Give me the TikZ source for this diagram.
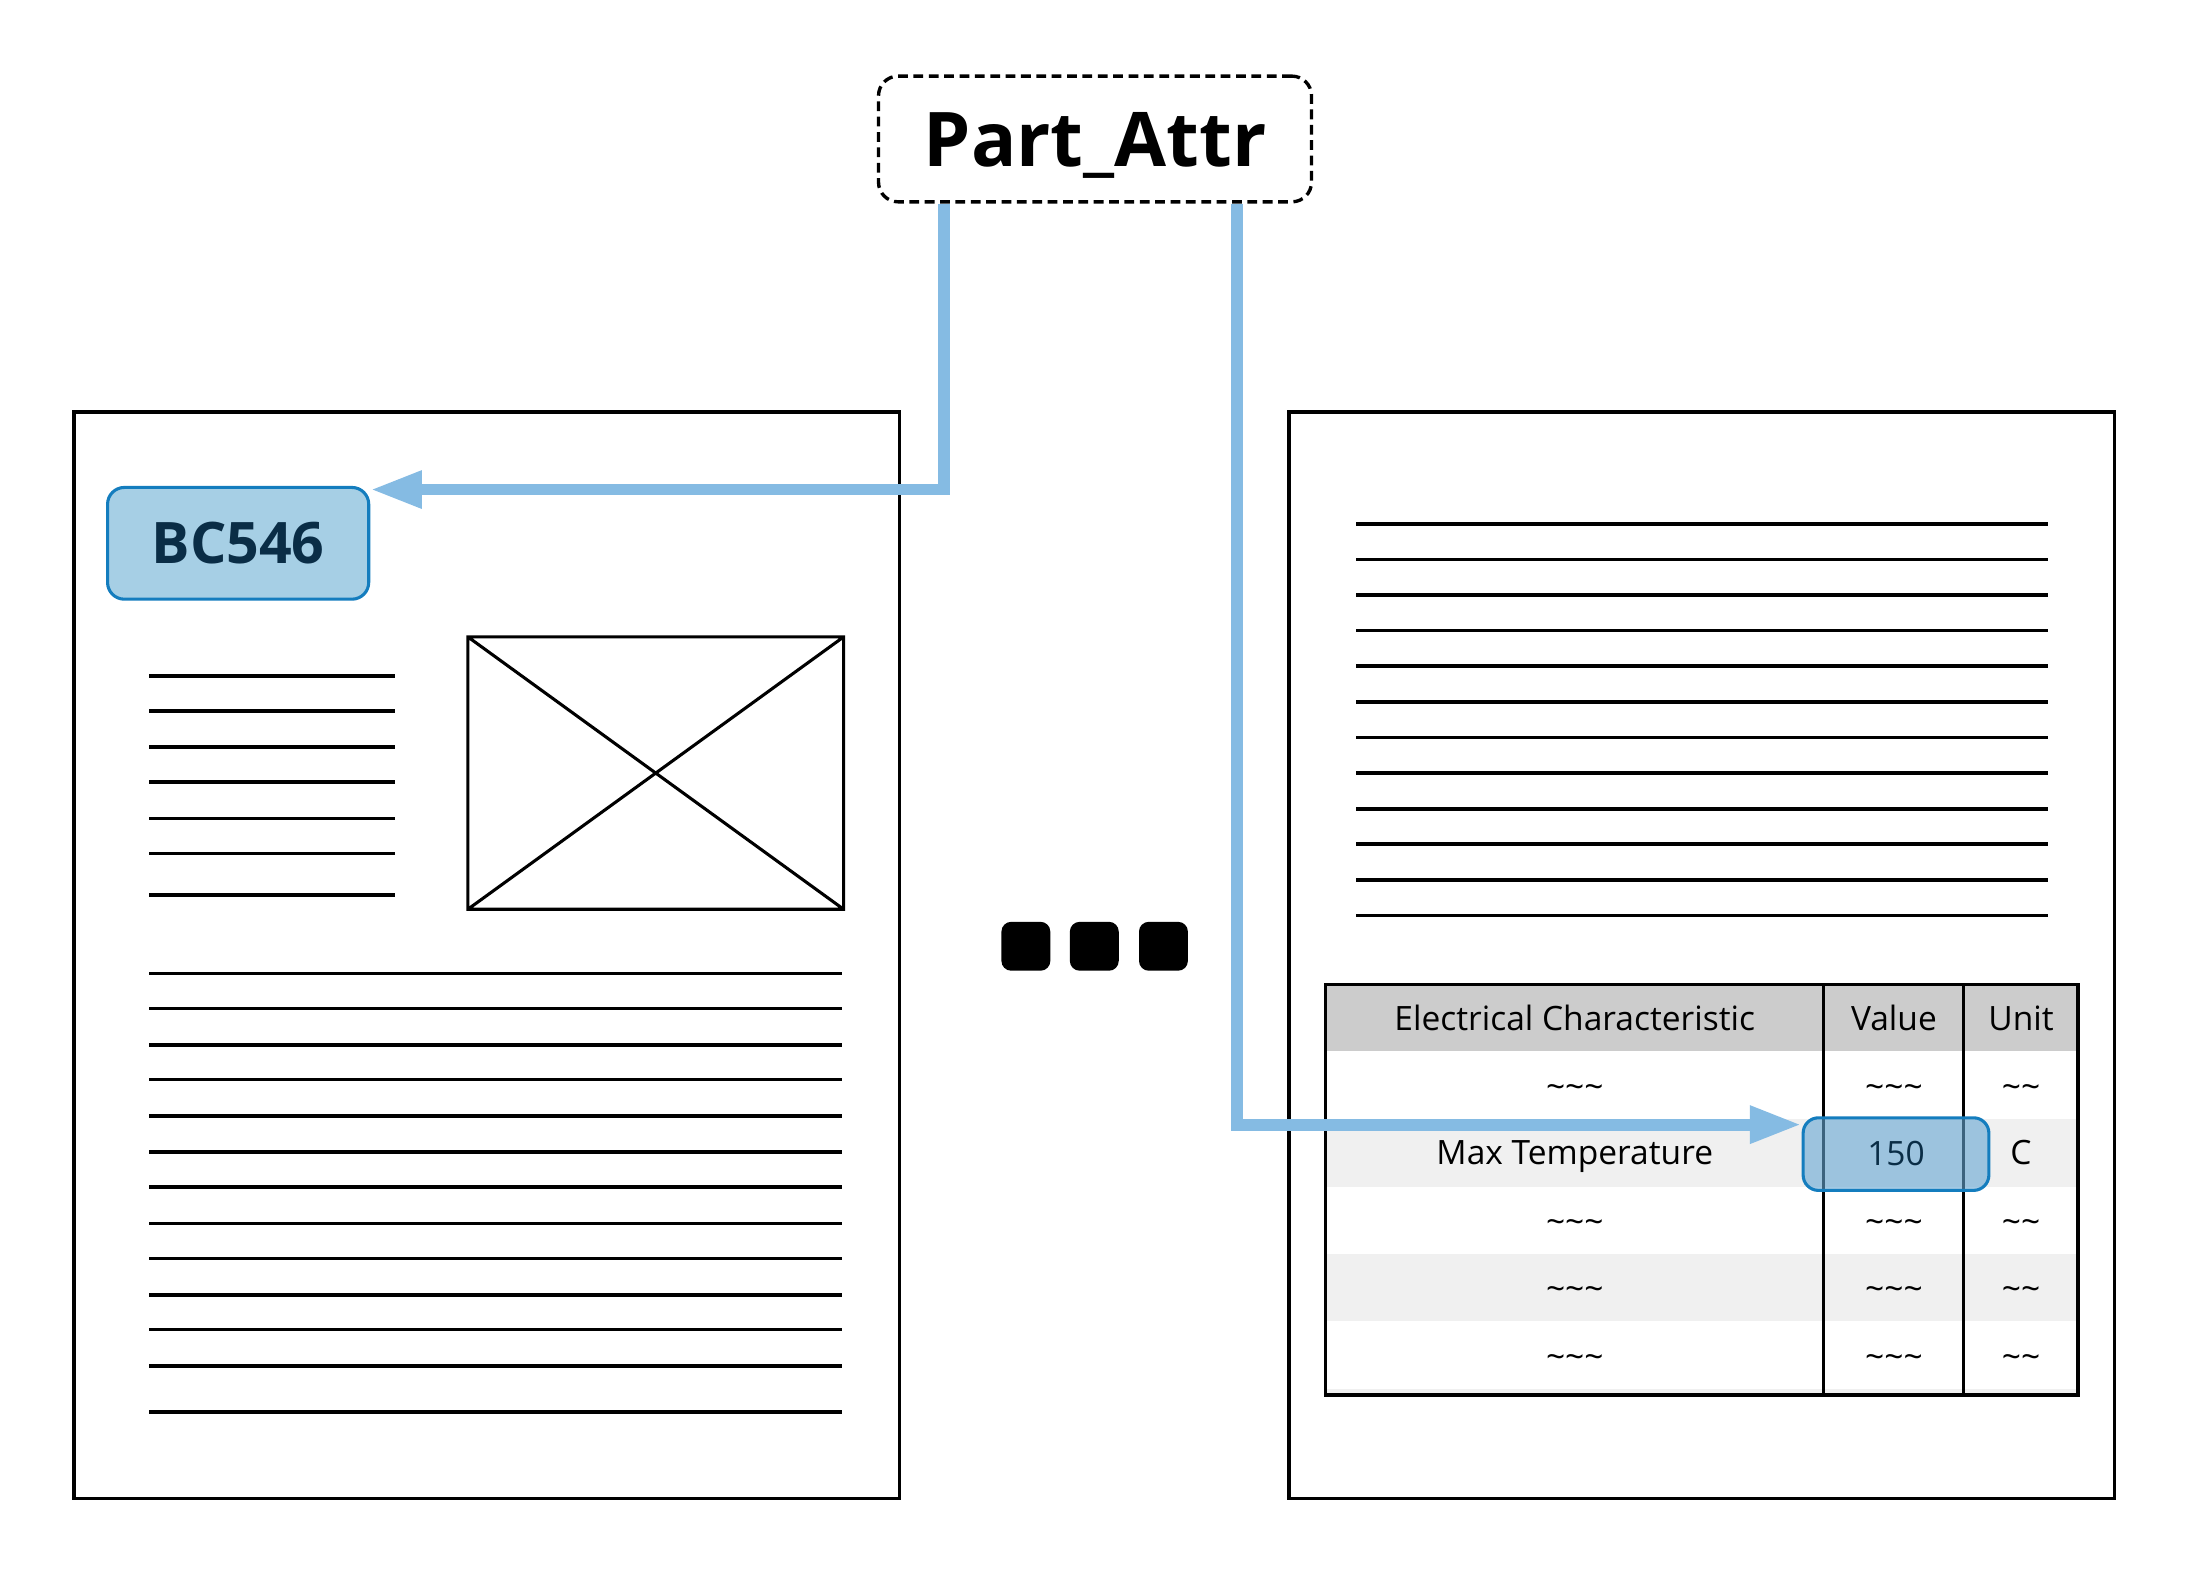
\documentclass[tikz,border=0pt]{standalone}
\usepackage{fontspec}
\setmainfont{Open Sans}
\usetikzlibrary{arrows.meta}
\definecolor{linkblue}{RGB}{133,187,227}
\definecolor{tagfill}{RGB}{166,207,229}
\definecolor{tagdraw}{RGB}{20,125,190}
\definecolor{tagtext}{RGB}{10,45,70}
\definecolor{headgray}{RGB}{204,204,204}
\definecolor{rowgray}{RGB}{240,240,240}
\definecolor{hilite}{RGB}{100,165,210}

\begin{document}
\begin{tikzpicture}
		[x=1pt,y=-1pt,every node/.style={inner sep=0pt},
		cell/.style={font=\fontsize{24}{28}\selectfont,text height=17pt,text depth=0pt},
		txtline/.style={line width=2.6pt},
		link/.style={line width=8.5pt,linkblue,-{Triangle[length=37pt,width=25pt]}}]
		\useasboundingbox (0,0) rectangle (1568,1128);
		%\draw[help lines] (0,0) grid (1568,1128);
		\node[draw,line width=2.4pt,dash pattern=on 7pt off 4pt,rounded corners=14pt,minimum width=310pt,minimum height=90pt,
			font=\fontsize{54}{60}\selectfont\bfseries,text height=39pt,text depth=0pt] (attr) at (784,99.5) {Part\_Attr};
		
		% left sheet
		\draw[line width=2.6pt] (53,295) rectangle (644,1073);
		\node[draw=tagdraw,fill=tagfill,line width=2.2pt,rounded corners=12pt,minimum width=187pt,minimum height=80pt,
			text=tagtext,font=\fontsize{41}{46}\selectfont\bfseries,text height=29pt,text depth=0pt] (bc) at (170.5,389) {BC546};
		\draw[line width=2.2pt] (335,456) rectangle (604,651) (335,456) -- (604,651) (335,651) -- (604,456);
		\foreach \y in {484,509,535,560,586,611,641}
		\draw[txtline] (107,\y) -- (283,\y);
		\foreach \y in {697,722,748,773,799,825,850,876,901,927,952,978,1011}
		\draw[txtline] (107,\y) -- (603,\y);
		
		% dots
		\foreach \x in {734.5,783.5,833}
		\fill[rounded corners=7pt] ({\x-17.5},660) rectangle ({\x+17.5},695);
		
		% right sheet
		\draw[line width=2.6pt] (923,295) rectangle (1514,1073);
		\foreach \i in {0,...,11}
		\draw[txtline] (971,{375+25.5*\i}) -- (1466,{375+25.5*\i});
		
		% table
		\fill[headgray] (949,705) rectangle (1488,752.3);
		\foreach \y in {801.4,897.8,994.2}
		\fill[rowgray] (949,\y) rectangle (1488,{min(\y+48.3,999)});
		\draw[line width=2.2pt] (1305.5,705) -- (1305.5,999) (1406,705) -- (1406,999);
		\draw[line width=2.6pt] (949,705) rectangle (1488,999);
		\node[cell] (h1) at (1127.5,729) {Electrical Characteristic};
		\node[cell] (h2) at (1356,729) {Value};
		\node[cell] (h3) at (1447,729) {Unit};
		\foreach \r in {1,3,4,5}{
			\node[cell] (a\r) at (1127.5,{778+48.3*(\r-1)}) {\textasciitilde\textasciitilde\textasciitilde};
			\node[cell] (b\r) at (1356,{778+48.3*(\r-1)}) {\textasciitilde\textasciitilde\textasciitilde};
			\node[cell] (c\r) at (1447,{778+48.3*(\r-1)}) {\textasciitilde\textasciitilde};
		}
		\node[cell] (a2) at (1127.5,825.3) {Max Temperature};
		\node[cell] (c2) at (1447,825.3) {C};
		\node[cell,draw=tagdraw,line width=2.2pt,fill=hilite,fill opacity=0.6,text opacity=1,text=tagtext,
			rounded corners=11pt,minimum width=133pt,minimum height=52pt] (val) at (1357.5,826.3) {150};
		
		% links
		\draw[link] ([xshift=-108pt]attr.south) |- ([yshift=-2.6pt]bc.north east);
		\draw[link] ([xshift=101.5pt]attr.south) |- ([yshift=-6pt]val.north west);
	\end{tikzpicture}
\end{document}
